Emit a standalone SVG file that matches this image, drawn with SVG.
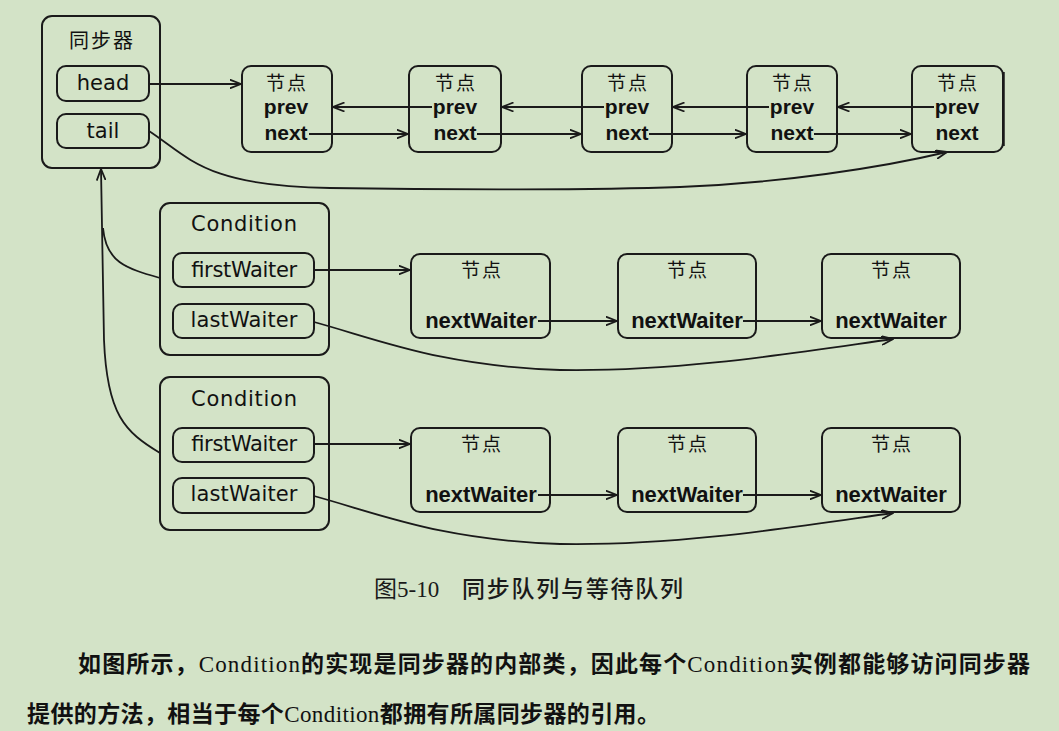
<svg xmlns="http://www.w3.org/2000/svg" width="1059" height="731" viewBox="0 0 1059 731">
<defs>
<style>
.bx{fill:none;stroke:#1a1a1a;stroke-width:2}
.ln{fill:none;stroke:#1a1a1a;stroke-width:1.8}
.arr{marker-end:url(#ah)}
.cjk{font-family:"Noto Sans CJK SC",sans-serif;fill:#111;text-anchor:middle}
.lbl{font-family:"DejaVu Sans","Liberation Sans",sans-serif;font-size:21px;fill:#111;text-anchor:middle}
.fld{font-family:"Liberation Sans",Arial,sans-serif;font-weight:bold;font-size:21px;fill:#111;text-anchor:middle}
.nw{font-family:"Liberation Sans",Arial,sans-serif;font-weight:bold;font-size:22px;fill:#111;text-anchor:middle}
.para{font-family:"Noto Sans CJK SC",sans-serif;font-size:23px;font-weight:bold;fill:#111}
.ser{font-family:"Liberation Serif","Times New Roman",serif;font-weight:normal}
</style>
<marker id="ah" viewBox="0 0 12 10" refX="11.5" refY="5" markerWidth="12" markerHeight="10" markerUnits="userSpaceOnUse" orient="auto">
<path d="M0,0.5 L11.5,5 L0,9.5" fill="none" stroke="#1a1a1a" stroke-width="1.8"/>
</marker>
</defs>
<rect width="1059" height="731" fill="#d3e3c7"/>

<g id="sync">
<rect class="bx" x="42" y="16" width="118" height="152" rx="10"/>
<text class="cjk" x="102" y="48" font-size="20" letter-spacing="2">同步器</text>
<rect class="bx" x="57" y="66" width="92" height="35" rx="9"/>
<text class="lbl" x="103" y="90">head</text>
<rect class="bx" x="57" y="114" width="92" height="34" rx="9"/>
<text class="lbl" x="103" y="138">tail</text>
</g>

<g id="node1">
<rect class="bx" x="242" y="66" width="90" height="86" rx="9"/>
<text class="cjk" x="287" y="90" font-size="19" letter-spacing="2">节点</text>
<text class="fld" x="286" y="114">prev</text>
<text class="fld" x="286" y="140">next</text>
</g>
<g id="node2">
<rect class="bx" x="409" y="66" width="92" height="86" rx="9"/>
<text class="cjk" x="456" y="90" font-size="19" letter-spacing="2">节点</text>
<text class="fld" x="455" y="114">prev</text>
<text class="fld" x="455" y="140">next</text>
</g>
<g id="node3">
<rect class="bx" x="582" y="66" width="90" height="86" rx="9"/>
<text class="cjk" x="628" y="90" font-size="19" letter-spacing="2">节点</text>
<text class="fld" x="627" y="114">prev</text>
<text class="fld" x="627" y="140">next</text>
</g>
<g id="node4">
<rect class="bx" x="747" y="66" width="90" height="86" rx="9"/>
<text class="cjk" x="793" y="90" font-size="19" letter-spacing="2">节点</text>
<text class="fld" x="792" y="114">prev</text>
<text class="fld" x="792" y="140">next</text>
</g>
<g id="node5">
<rect class="bx" x="912" y="66" width="91" height="86" rx="9"/>
<line x1="1003.5" y1="72" x2="1003.5" y2="146" stroke="#1a1a1a" stroke-width="2.5"/>
<text class="cjk" x="958" y="90" font-size="19" letter-spacing="2">节点</text>
<text class="fld" x="957" y="114">prev</text>
<text class="fld" x="957" y="140">next</text>
</g>

<g id="cond1">
<rect class="bx" x="160" y="203" width="169" height="152" rx="10"/>
<text class="lbl" x="244" y="231" textLength="106" lengthAdjust="spacing">Condition</text>
<rect class="bx" x="173" y="253" width="141" height="34" rx="9"/>
<text class="lbl" x="244" y="277" textLength="106" lengthAdjust="spacing">firstWaiter</text>
<rect class="bx" x="173" y="304" width="141" height="34" rx="9"/>
<text class="lbl" x="244" y="327" textLength="107" lengthAdjust="spacing">lastWaiter</text>
</g>
<g id="cond2">
<rect class="bx" x="160" y="377" width="169" height="153" rx="10"/>
<text class="lbl" x="244" y="406" textLength="106" lengthAdjust="spacing">Condition</text>
<rect class="bx" x="173" y="428" width="141" height="34" rx="9"/>
<text class="lbl" x="244" y="451" textLength="106" lengthAdjust="spacing">firstWaiter</text>
<rect class="bx" x="173" y="478" width="141" height="35" rx="9"/>
<text class="lbl" x="244" y="501" textLength="107" lengthAdjust="spacing">lastWaiter</text>
</g>

<g id="w1a">
<rect class="bx" x="411" y="254" width="139" height="84" rx="9"/>
<text class="cjk" x="482" y="277" font-size="19" letter-spacing="2">节点</text>
<text class="nw" x="481" y="328">nextWaiter</text>
</g>
<g id="w1b">
<rect class="bx" x="618" y="254" width="138" height="84" rx="9"/>
<text class="cjk" x="688" y="277" font-size="19" letter-spacing="2">节点</text>
<text class="nw" x="687" y="328">nextWaiter</text>
</g>
<g id="w1c">
<rect class="bx" x="822" y="254" width="138" height="84" rx="9"/>
<text class="cjk" x="892" y="277" font-size="19" letter-spacing="2">节点</text>
<text class="nw" x="891" y="328">nextWaiter</text>
</g>
<g id="w2a">
<rect class="bx" x="411" y="428" width="139" height="84" rx="9"/>
<text class="cjk" x="482" y="451" font-size="19" letter-spacing="2">节点</text>
<text class="nw" x="481" y="502">nextWaiter</text>
</g>
<g id="w2b">
<rect class="bx" x="618" y="428" width="138" height="84" rx="9"/>
<text class="cjk" x="688" y="451" font-size="19" letter-spacing="2">节点</text>
<text class="nw" x="687" y="502">nextWaiter</text>
</g>
<g id="w2c">
<rect class="bx" x="822" y="428" width="138" height="84" rx="9"/>
<text class="cjk" x="892" y="451" font-size="19" letter-spacing="2">节点</text>
<text class="nw" x="891" y="502">nextWaiter</text>
</g>

<g id="connectors">
<path class="ln arr" d="M149,84 H241"/>
<path class="ln arr" d="M309,134 H408"/>
<path class="ln arr" d="M477,134 H581"/>
<path class="ln arr" d="M649,134 H746"/>
<path class="ln arr" d="M814,134 H911"/>
<path class="ln arr" d="M432,107 H333"/>
<path class="ln arr" d="M604,107 H502"/>
<path class="ln arr" d="M769,107 H673"/>
<path class="ln arr" d="M934,107 H838"/>
<path class="ln arr" d="M149,131 C190,158 205,186 330,188 C450,190 600,190 680,187 C780,183 880,168 947,152"/>
<path class="ln arr" d="M314,270 H410"/>
<path class="ln arr" d="M538,321 H617"/>
<path class="ln arr" d="M743,321 H821"/>
<path class="ln arr" d="M314,322 C380,340 440,366 560,370 C680,372 800,352 893,339"/>
<path class="ln arr" d="M314,444 H410"/>
<path class="ln arr" d="M538,495 H617"/>
<path class="ln arr" d="M743,495 H821"/>
<path class="ln arr" d="M314,496 C380,514 440,540 560,544 C680,546 800,526 893,513"/>
<path class="ln arr" d="M160,453 C125,432 107,415 104,340 L101,169"/>
<path class="ln" d="M160,278 C125,268 106,262 103,228"/>
</g>

<g id="caption">
<text x="374" y="597" font-family="'Liberation Serif','Noto Sans CJK SC',serif" font-size="23" fill="#1a1a1a">图5-10</text>
<text x="462" y="597" font-family="'Noto Sans CJK SC',sans-serif" font-size="23" font-weight="500" fill="#1a1a1a" textLength="221" lengthAdjust="spacing">同步队列与等待队列</text>
</g>

<g id="paragraph">
<text class="para" x="78" y="672" textLength="952" lengthAdjust="spacing">如图所示，<tspan class="ser">Condition</tspan>的实现是同步器的内部类，因此每个<tspan class="ser">Condition</tspan>实例都能够访问同步器</text>
<text class="para" x="27" y="722" textLength="633" lengthAdjust="spacing">提供的方法，相当于每个<tspan class="ser">Condition</tspan>都拥有所属同步器的引用。</text>
</g>
</svg>
